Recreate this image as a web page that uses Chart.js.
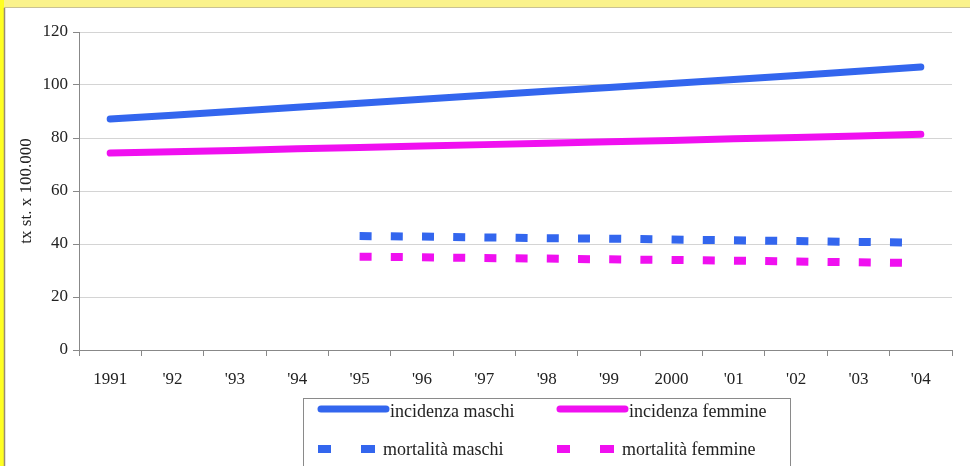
<!DOCTYPE html>
<html>
<head>
<meta charset="utf-8">
<script src="https://cdn.jsdelivr.net/npm/chart.js@4.4.1/dist/chart.umd.min.js"></script>
<style>
  html, body { margin: 0; padding: 0; background: #ffffff; }
  #wrap { width: 970px; height: 466px; }
</style>
</head>
<body>
<div id="wrap"><canvas id="tassiChart" width="970" height="466"></canvas></div>
<script>
// Données
const annees = ['1991', "'92", "'93", "'94", "'95", "'96", "'97", "'98", "'99", '2000', "'01", "'02", "'03", "'04"];
const incidenzaMaschi = [87.2, 88.6, 90.1, 91.6, 93.1, 94.6, 96.1, 97.6, 99.1, 100.6, 102.1, 103.6, 105.2, 106.8];
const incidenzaFemmine = [74.3, 74.8, 75.3, 75.9, 76.4, 77.0, 77.5, 78.0, 78.6, 79.1, 79.7, 80.2, 80.8, 81.4];
const mortalitaMaschi = [null, null, null, null, 43.0, 42.8, 42.5, 42.2, 42.0, 41.7, 41.4, 41.1, 40.8, 40.5];
const mortalitaFemmine = [null, null, null, null, 35.2, 35.0, 34.7, 34.5, 34.2, 34.0, 33.7, 33.4, 33.1, 32.8];
const yTicks = [0, 20, 40, 60, 80, 100, 120];

const BLU = '#3366ee';
const FUCSIA = '#f010f0';
const SERIF = "'Liberation Serif', 'Times New Roman', serif";

Chart.defaults.font.family = SERIF;
Chart.defaults.color = '#222';

// Cadre jaune + fond blanc
const cadre = {
  id: 'cadre',
  beforeDraw(chart) {
    const ctx = chart.ctx;
    ctx.save();
    ctx.fillStyle = '#faf28c';
    ctx.fillRect(0, 0, chart.width, 8);
    ctx.fillStyle = '#ffff22';
    ctx.fillRect(0, 0, 4, chart.height);
    ctx.fillStyle = '#ffffff';
    ctx.fillRect(5, 8, chart.width - 5, chart.height - 8);
    ctx.strokeStyle = '#9a8c72';
    ctx.lineWidth = 1.5;
    ctx.beginPath();
    ctx.moveTo(4.5, 8);
    ctx.lineTo(4.5, chart.height);
    ctx.stroke();
    ctx.strokeStyle = '#c9c193';
    ctx.lineWidth = 1;
    ctx.beginPath();
    ctx.moveTo(4, 7.5);
    ctx.lineTo(chart.width, 7.5);
    ctx.stroke();
    ctx.restore();
  }
};

// Légende en deux colonnes, dessinée à la main
const legende = {
  id: 'legende',
  afterDraw(chart) {
    const ctx = chart.ctx;
    const ds = chart.data.datasets;
    ctx.save();
    ctx.strokeStyle = '#8a8a8a';
    ctx.lineWidth = 1;
    ctx.strokeRect(303.5, 398.5, 487, 80);

    const items = [
      { d: ds[0], x: 318, y: 411, text: 390 },
      { d: ds[1], x: 557, y: 411, text: 629 },
      { d: ds[2], x: 318, y: 449, text: 383 },
      { d: ds[3], x: 557, y: 449, text: 622 }
    ];
    ctx.font = '18px ' + SERIF;
    ctx.textBaseline = 'middle';
    items.forEach(it => {
      ctx.strokeStyle = it.d.borderColor;
      ctx.fillStyle = it.d.borderColor;
      if (it.d.borderDash) {
        ctx.fillRect(it.x, it.y - 4, 13, 8);
        ctx.fillRect(it.x + 43, it.y - 4, 14, 8);
      } else {
        ctx.lineWidth = 7;
        ctx.lineCap = 'round';
        ctx.beginPath();
        ctx.moveTo(it.x + 3, it.y - 2);
        ctx.lineTo(it.x + 68, it.y - 2);
        ctx.stroke();
      }
      ctx.fillStyle = '#222';
      ctx.fillText(it.d.label, it.text, it.y + 1);
    });
    ctx.restore();
  }
};

const canva = document.getElementById('tassiChart');
new Chart(canva, {
  type: 'line',
  data: {
    labels: annees,
    datasets: [
      {
        label: 'incidenza maschi',
        data: incidenzaMaschi,
        borderColor: BLU,
        borderWidth: 7,
        borderCapStyle: 'round'
      },
      {
        label: 'incidenza femmine',
        data: incidenzaFemmine,
        borderColor: FUCSIA,
        borderWidth: 7,
        borderCapStyle: 'round'
      },
      {
        label: 'mortalità maschi',
        data: mortalitaMaschi,
        borderColor: BLU,
        borderWidth: 8,
        borderDash: [12, 19.2]
      },
      {
        label: 'mortalità femmine',
        data: mortalitaFemmine,
        borderColor: FUCSIA,
        borderWidth: 8,
        borderDash: [12, 19.2]
      }
    ]
  },
  options: {
    responsive: false,
    animation: false,
    spanGaps: false,
    elements: {
      point: { radius: 0, hoverRadius: 0 },
      line: { tension: 0 }
    },
    layout: {
      padding: { left: 12, top: 32, right: 18, bottom: 76 }
    },
    plugins: {
      legend: { display: false },
      tooltip: { enabled: false }
    },
    scales: {
      x: {
        offset: true,
        grid: {
          offset: true,
          drawOnChartArea: false,
          drawTicks: true,
          tickLength: 6,
          tickColor: '#888'
        },
        border: { color: '#888', width: 1 },
        ticks: {
          padding: 13,
          maxRotation: 0,
          autoSkip: false,
          font: { size: 17 }
        },
        afterFit(scale) { scale.height = 40; }
      },
      y: {
        min: 0,
        max: 120,
        afterBuildTicks(scale) {
          scale.ticks = yTicks.map(v => ({ value: v }));
        },
        grid: {
          color: '#d4d4d4',
          lineWidth: 1,
          drawTicks: true,
          tickLength: 6,
          tickColor: '#888'
        },
        border: { color: '#888', width: 1 },
        ticks: {
          padding: 5,
          font: { size: 17 }
        },
        title: {
          display: true,
          text: 'tx st. x 100.000',
          font: { size: 17 },
          padding: { top: 4, bottom: 0 }
        },
        afterFit(scale) { scale.width = 67; }
      }
    }
  },
  plugins: [cadre, legende]
});
</script>
</body>
</html>
